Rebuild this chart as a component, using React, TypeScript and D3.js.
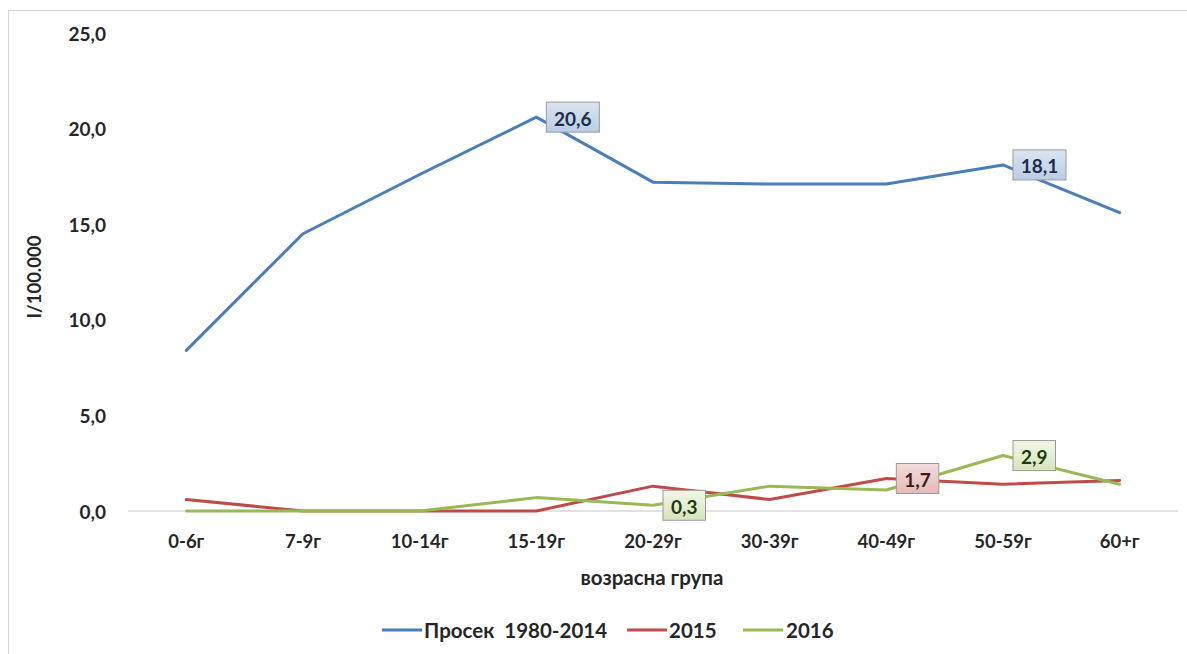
import React from "react";
import * as d3 from "d3";

const categories = ["0-6г", "7-9г", "10-14г", "15-19г", "20-29г", "30-39г", "40-49г", "50-59г", "60+г"];
const avgValues = [8.4, 14.5, 17.6, 20.6, 17.2, 17.1, 17.1, 18.1, 15.6];
const values2015 = [0.6, 0.0, 0.0, 0.0, 1.3, 0.6, 1.7, 1.4, 1.6];
const values2016 = [0.0, 0.0, 0.0, 0.7, 0.3, 1.3, 1.1, 2.9, 1.4];
const yTicks = [0, 5, 10, 15, 20, 25];
const seriesNames = ["Просек  1980-2014", "2015", "2016"];
// labelled points: [series index, category index]
const labelled: [number, number][] = [[0, 3], [0, 7], [2, 4], [1, 6], [2, 7]];

const W = 1187, H = 654;
const FONT = "Lato, 'Open Sans', sans-serif";

export default function App() {
  const x = d3.scaleBand().domain(categories).range([128, 1178]);
  const y = d3.scaleLinear().domain([0, 25]).range([511, 33]);
  const cx = (c: string) => (x(c) ?? 0) + x.bandwidth() / 2;
  const line = d3.line<number>().x((_, i) => cx(categories[i])).y((v) => y(v));

  const series = [
    { name: seriesNames[0], values: avgValues, color: "#4a7ebb", fill: ["#dbe5f1", "#b9cde5"], text: "#1f2d4d" },
    { name: seriesNames[1], values: values2015, color: "#be4b48", fill: ["#f2dcdb", "#e6b9b8"], text: "#3a1a1a" },
    { name: seriesNames[2], values: values2016, color: "#98b954", fill: ["#f2f7e6", "#d7e4bd"], text: "#1f3a10" },
  ];

  const fmt = (v: number) => v.toFixed(1).replace(".", ",");

  const legendItems = [
    { x: 382, tx: 424 },
    { x: 627, tx: 669 },
    { x: 743, tx: 786 },
  ];

  return (
    <svg width={W} height={H} style={{ position: "absolute", left: 0, top: 0, background: "#fff" }} fontFamily={FONT}>
      <defs>
        {series.map((s, i) => (
          <linearGradient key={i} id={`g${i}`} x1="0" y1="0" x2="0" y2="1">
            <stop offset="0" stopColor={s.fill[0]} />
            <stop offset="1" stopColor={s.fill[1]} />
          </linearGradient>
        ))}
      </defs>
      <rect x={8.5} y={10.5} width={1200} height={660} fill="#fff" stroke="#d9d9d9" />
      {/* y tick labels */}
      {yTicks.map((t) => (
        <text key={t} x={106} y={y(t)} textAnchor="end" dominantBaseline="central" fontSize={19} fontWeight={700} fill="#262626">
          {fmt(t)}
        </text>
      ))}
      {/* y title */}
      <text transform={`translate(34,277) rotate(-90)`} textAnchor="middle" dominantBaseline="central" fontSize={18.5} fontWeight={700} fill="#262626">
        I/100.000
      </text>
      {/* x axis line */}
      <line x1={128} x2={1178} y1={y(0)} y2={y(0)} stroke="#d9d9d9" strokeWidth={1.5} />
      {/* x tick labels */}
      {categories.map((c) => (
        <text key={c} x={cx(c)} y={541} textAnchor="middle" dominantBaseline="central" fontSize={18.5} fontWeight={700} fill="#262626">
          {c}
        </text>
      ))}
      <text x={652} y={577} textAnchor="middle" dominantBaseline="central" fontSize={20.5} fontWeight={700} fill="#262626">
        возрасна група
      </text>
      {series.map((s, i) => (
        <path key={i} d={line(s.values) ?? ""} fill="none" stroke={s.color} strokeWidth={3} strokeLinejoin="round" strokeLinecap="round" />
      ))}
      {/* data labels */}
      {labelled.map(([si, ci], k) => {
        const s = series[si];
        const v = s.values[ci];
        const label = fmt(v);
        const px = cx(categories[ci]);
        const py = y(v);
        const w = label.length * 10.5 + 11;
        const h = 30;
        const bx = px + 10;
        return (
          <g key={k}>
            <rect x={bx} y={py - h / 2} width={w} height={h} fill={`url(#g${si})`} stroke="#9a9a9a" strokeWidth={1} />
            <text x={bx + w / 2} y={py + 1} textAnchor="middle" dominantBaseline="central" fontSize={19} fontWeight={700} fill={s.text}>
              {label}
            </text>
          </g>
        );
      })}
      {/* legend */}
      {series.map((s, i) => (
        <g key={i}>
          <line x1={legendItems[i].x} x2={legendItems[i].x + 40} y1={630} y2={630} stroke={s.color} strokeWidth={3} />
          <text x={legendItems[i].tx} y={630} dominantBaseline="central" fontSize={20.5} fontWeight={700} fill="#262626" style={{ whiteSpace: "pre" }}>
            {s.name}
          </text>
        </g>
      ))}
    </svg>
  );
}
